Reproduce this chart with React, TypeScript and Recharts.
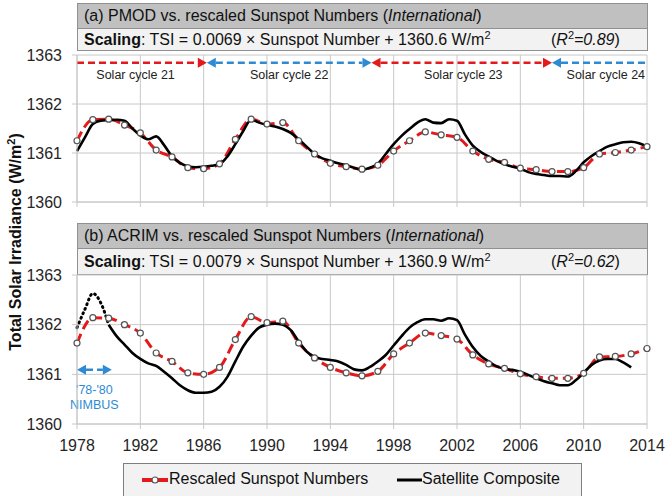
import { LineChart, Line, XAxis, YAxis, CartesianGrid, ReferenceLine } from "recharts"

const FONT = "'Liberation Sans', Arial, sans-serif"
const RED = "#e3191c"
const BLUE = "#2e8bd3"
const GRID = "#c8c8c8"

// yearly markers of the rescaled sunspot series
const years = [
  1978, 1979, 1980, 1981, 1982, 1983, 1984, 1985, 1986, 1987, 1988, 1989, 1990,
  1991, 1992, 1993, 1994, 1995, 1996, 1997, 1998, 1999, 2000, 2001, 2002, 2003,
  2004, 2005, 2006, 2007, 2008, 2009, 2010, 2011, 2012, 2013, 2014,
]

// half-year sampling of the satellite composites
const halfYears = [
  1978, 1978.5, 1979, 1979.5, 1980, 1980.5, 1981, 1981.5, 1982, 1982.5, 1983, 1983.5,
  1984, 1984.5, 1985, 1985.5, 1986, 1986.5, 1987, 1987.5, 1988, 1988.5, 1989, 1989.5,
  1990, 1990.5, 1991, 1991.5, 1992, 1992.5, 1993, 1993.5, 1994, 1994.5, 1995, 1995.5,
  1996, 1996.5, 1997, 1997.5, 1998, 1998.5, 1999, 1999.5, 2000, 2000.5, 2001, 2001.5,
  2002, 2002.5, 2003, 2003.5, 2004, 2004.5, 2005, 2005.5, 2006, 2006.5, 2007, 2007.5,
  2008, 2008.5, 2009, 2009.5, 2010, 2010.5, 2011, 2011.5, 2012, 2012.5, 2013, 2013.5,
  2014,
]

const xTicks = [1978, 1982, 1986, 1990, 1994, 1998, 2002, 2006, 2010, 2014]
const yTicks = [1360, 1361, 1362, 1363]

// (a) PMOD
const sunspotA = [
  1361.25, 1361.68, 1361.69, 1361.57, 1361.41, 1361.06, 1360.92, 1360.70, 1360.68, 1360.78,
  1361.28, 1361.69, 1361.59, 1361.62, 1361.25, 1360.98, 1360.79, 1360.72, 1360.67, 1360.75,
  1361.04, 1361.25, 1361.43, 1361.37, 1361.32, 1361.04, 1360.87, 1360.81, 1360.69, 1360.66,
  1360.62, 1360.62, 1360.70, 1360.98, 1361.01, 1361.06, 1361.13,
]
const pmod = [
  1361.04, 1361.32, 1361.59, 1361.66, 1361.67, 1361.68, 1361.66, 1361.50, 1361.36, 1361.28,
  1361.34, 1361.16, 1360.93, 1360.80, 1360.73, 1360.71, 1360.72, 1360.74, 1360.77, 1360.93,
  1361.18, 1361.45, 1361.68, 1361.62, 1361.57, 1361.54, 1361.49, 1361.41, 1361.28, 1361.13,
  1360.98, 1360.89, 1360.84, 1360.79, 1360.75, 1360.70, 1360.66, 1360.70, 1360.78, 1360.98,
  1361.18, 1361.35, 1361.49, 1361.62, 1361.69, 1361.62, 1361.61, 1361.69, 1361.66, 1361.38,
  1361.15, 1361.02, 1360.93, 1360.84, 1360.77, 1360.72, 1360.68, 1360.61, 1360.57, 1360.55,
  1360.53, 1360.53, 1360.52, 1360.63, 1360.81, 1360.94, 1361.04, 1361.13, 1361.18, 1361.22,
  1361.23, 1361.20, 1361.13,
]

// (b) ACRIM
const sunspotB = [
  1361.63, 1362.14, 1362.13, 1362.00, 1361.83, 1361.43, 1361.26, 1361.03, 1361.00, 1361.14,
  1361.70, 1362.16, 1362.04, 1362.07, 1361.63, 1361.33, 1361.14, 1361.03, 1360.97, 1361.06,
  1361.41, 1361.63, 1361.83, 1361.78, 1361.71, 1361.39, 1361.21, 1361.12, 1361.01, 1360.95,
  1360.92, 1360.92, 1361.02, 1361.35, 1361.36, 1361.41, 1361.52,
]
const nimbusYears = [1978, 1978.5, 1979, 1979.5, 1980]
const nimbus = [1361.94, 1362.31, 1362.63, 1362.44, 1362.0]
const acrimYears = halfYears.slice(4, 71) // 1980 .. 2013
const acrim = [
  1362.00, 1361.77, 1361.60, 1361.43, 1361.31, 1361.22, 1361.17, 1361.05, 1360.92, 1360.78,
  1360.68, 1360.63, 1360.63, 1360.65, 1360.75, 1360.95, 1361.26, 1361.56, 1361.78, 1361.94,
  1362.00, 1362.02, 1362.00, 1361.89, 1361.66, 1361.46, 1361.35, 1361.31, 1361.29, 1361.26,
  1361.19, 1361.10, 1361.08, 1361.15, 1361.26, 1361.39, 1361.58, 1361.77, 1361.94, 1362.05,
  1362.11, 1362.11, 1362.08, 1362.13, 1362.09, 1361.80, 1361.55, 1361.37, 1361.26, 1361.16,
  1361.11, 1361.09, 1361.05, 1360.99, 1360.92, 1360.86, 1360.82, 1360.78, 1360.78, 1360.88,
  1361.03, 1361.19, 1361.28, 1361.31, 1361.31, 1361.24, 1361.14,
]

const cycles = [
  { name: "Solar cycle 21", from: 1978, to: 1986.2, at: 1981.7, color: RED, left: false, right: true },
  { name: "Solar cycle 22", from: 1986.2, to: 1996.6, at: 1991.4, color: BLUE, left: true, right: true },
  { name: "Solar cycle 23", from: 1996.6, to: 2008.0, at: 2002.4, color: RED, left: true, right: true },
  { name: "Solar cycle 24", from: 2008.0, to: 2014, at: 2011.4, color: BLUE, left: true, right: false },
]

const pairs = (xs: number[], vs: number[]) => xs.map((year, i) => ({ year, value: vs[i] }))

const sunspotDot = (p: any) => (
  <circle key={p.key ?? `${p.cx}`} cx={p.cx} cy={p.cy} r={3} fill="#fff" stroke="#555" strokeWidth={1.2} />
)

const arrowShape = (color: string, left: boolean, right: boolean, labels: { text: string; frac: number; dy: number; size: number; fill: string }[]) => (p: any) => {
  const { x1, y1, x2, y2 } = p
  const h = 9
  const w = 5
  const sx = left ? x1 + h : x1
  const ex = right ? x2 - h : x2
  return (
    <g>
      <line x1={sx} y1={y1} x2={ex} y2={y2} stroke={color} strokeWidth={2.5} strokeDasharray="7 4" />
      {left && <polygon points={`${x1},${y1} ${x1 + h},${y1 - w} ${x1 + h},${y1 + w}`} fill={color} />}
      {right && <polygon points={`${x2},${y2} ${x2 - h},${y2 - w} ${x2 - h},${y2 + w}`} fill={color} />}
      {labels.map((l) => (
        <text key={l.text} x={x1 + l.frac * (x2 - x1)} y={y1 + l.dy} textAnchor="middle" fontSize={l.size} fill={l.fill} fontFamily={FONT}>
          {l.text}
        </text>
      ))}
    </g>
  )
}

const tickStyle = { fontSize: 16, fill: "#262626", fontFamily: FONT }
const sup = { fontSize: 11, verticalAlign: "super", lineHeight: 0 }

function Header({ top, titleH, scaleH, label, slope, offset, r2 }: any) {
  const box = {
    position: "absolute" as const,
    left: 77,
    width: 571,
    boxSizing: "border-box" as const,
    border: "1px solid #909090",
    fontFamily: FONT,
    fontSize: 16,
    color: "#111",
    paddingLeft: 6,
    display: "flex",
    alignItems: "center",
    whiteSpace: "nowrap" as const,
  }
  return (
    <>
      <div style={{ ...box, top, height: titleH, background: "#c0c0c0" }}>
        <span>{label} vs. rescaled Sunspot Numbers (<i>International</i>)</span>
      </div>
      <div style={{ ...box, top: top + titleH - 1, height: scaleH + 1, background: "#f2f2f2" }}>
        <span>
          <b>Scaling</b>: TSI = {slope} × Sunspot Number + {offset} W/m<span style={sup}>2</span>
        </span>
        <span style={{ position: "absolute", left: 473 }}>
          (<i>R</i><span style={sup}>2</span><i>={r2}</i>)
        </span>
      </div>
    </>
  )
}

export default function App() {
  return (
    <div style={{ position: "absolute", left: 0, top: 0, width: 666, height: 496, background: "#fff", overflow: "hidden", fontFamily: FONT }}>
      <Header top={3} titleH={26} scaleH={22} label="(a) PMOD" slope="0.0069" offset="1360.6" r2="0.89" />
      <Header top={223} titleH={26} scaleH={26} label="(b) ACRIM" slope="0.0079" offset="1360.9" r2="0.62" />

      <div style={{ position: "absolute", left: 0, top: 0 }}>
        <LineChart width={666} height={212} margin={{ top: 55, right: 19, bottom: 0, left: 17 }}>
          <CartesianGrid stroke={GRID} />
          <XAxis dataKey="year" type="number" domain={[1978, 2014]} ticks={xTicks} height={10} tickFormatter={() => ""}
            tickSize={5} axisLine={{ stroke: GRID }} tickLine={{ stroke: GRID }} />
          <YAxis type="number" domain={[1360, 1363]} ticks={yTicks} width={60} tick={tickStyle} tickSize={5} tickMargin={10}
            axisLine={{ stroke: GRID }} tickLine={{ stroke: GRID }} />
          <Line data={pairs(years, sunspotA)} dataKey="value" type="monotone" stroke={RED} strokeWidth={3}
            strokeDasharray="10 5" dot={sunspotDot} isAnimationActive={false} />
          <Line data={pairs(halfYears, pmod)} dataKey="value" type="monotone" stroke="#000" strokeWidth={2.6}
            dot={false} isAnimationActive={false} />
          {cycles.map((c) => (
            <ReferenceLine key={c.name} segment={[{ x: c.from, y: 1362.84 }, { x: c.to, y: 1362.84 }]}
              shape={arrowShape(c.color, c.left, c.right, [
                { text: c.name, frac: (c.at - c.from) / (c.to - c.from), dy: 16.5, size: 12.5, fill: "#222" },
              ])} />
          ))}
        </LineChart>
      </div>

      <div style={{ position: "absolute", left: 0, top: 220 }}>
        <LineChart width={666} height={234} margin={{ top: 55, right: 19, bottom: 0, left: 17 }}>
          <CartesianGrid stroke={GRID} />
          <XAxis dataKey="year" type="number" domain={[1978, 2014]} ticks={xTicks} height={30} tick={tickStyle}
            tickSize={5} tickMargin={11} axisLine={{ stroke: GRID }} tickLine={{ stroke: GRID }} />
          <YAxis type="number" domain={[1360, 1363]} ticks={yTicks} width={60} tick={tickStyle} tickSize={5} tickMargin={10}
            axisLine={{ stroke: GRID }} tickLine={{ stroke: GRID }} />
          <Line data={pairs(years, sunspotB)} dataKey="value" type="monotone" stroke={RED} strokeWidth={3}
            strokeDasharray="10 5" dot={sunspotDot} isAnimationActive={false} />
          <Line data={pairs(nimbusYears, nimbus)} dataKey="value" type="monotone" stroke="#000" strokeWidth={3}
            strokeDasharray="1 4" strokeLinecap="round" dot={false} isAnimationActive={false} />
          <Line data={pairs(acrimYears, acrim)} dataKey="value" type="monotone" stroke="#000" strokeWidth={2.6}
            dot={false} isAnimationActive={false} />
          <ReferenceLine segment={[{ x: 1978, y: 1361.09 }, { x: 1980.2, y: 1361.09 }]}
            shape={arrowShape(BLUE, true, true, [
              { text: "'78-'80", frac: 0.5, dy: 24.5, size: 12.5, fill: BLUE },
              { text: "NIMBUS", frac: 0.5, dy: 39.5, size: 12.5, fill: BLUE },
            ])} />
        </LineChart>
      </div>

      <div style={{ position: "absolute", left: 16, top: 242, transform: "translate(-50%, -50%) rotate(-90deg)",
        whiteSpace: "nowrap", fontWeight: "bold", fontSize: 16, color: "#111" }}>
        Total Solar Irradiance (W/m<span style={sup}>2</span>)
      </div>

      <div style={{ position: "absolute", left: 123, top: 463, width: 459, height: 40, boxSizing: "border-box",
        border: "1px solid #7f7f7f", background: "#f2f2f2", fontSize: 16, color: "#111" }}>
        <svg width={30} height={12} style={{ position: "absolute", left: 17, top: 10 }}>
          <line x1={1} y1={6} x2={27} y2={6} stroke={RED} strokeWidth={4} />
          <circle cx={14} cy={6} r={3} fill="#fff" stroke="#555" strokeWidth={1.2} />
        </svg>
        <span style={{ position: "absolute", left: 45, top: 6 }}>Rescaled Sunspot Numbers</span>
        <svg width={28} height={12} style={{ position: "absolute", left: 272, top: 10 }}>
          <line x1={1} y1={6} x2={26} y2={6} stroke="#000" strokeWidth={3} />
        </svg>
        <span style={{ position: "absolute", left: 298, top: 6 }}>Satellite Composite</span>
      </div>
    </div>
  )
}
